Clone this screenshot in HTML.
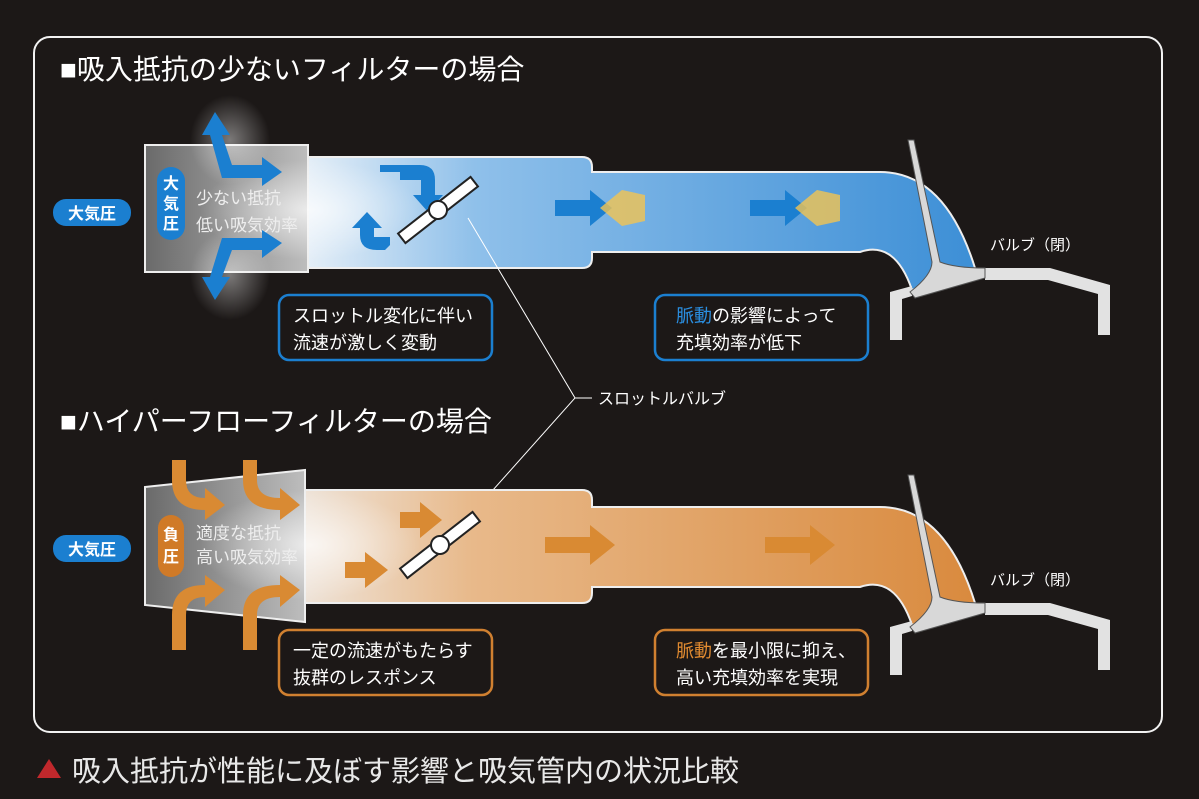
<!DOCTYPE html>
<html><head><meta charset="utf-8"><style>
html,body{margin:0;padding:0;background:#1c1817;}
svg{display:block}
text{font-family:"Liberation Sans","Noto Sans CJK JP",sans-serif;}
</style></head><body>
<svg width="1199" height="799" viewBox="0 0 1199 799" xmlns="http://www.w3.org/2000/svg">
<defs>
<linearGradient id="bl" x1="0" x2="1" y1="0" y2="0">
<stop offset="0" stop-color="#e4eef7"/><stop offset="0.25" stop-color="#8fc0ea"/><stop offset="1" stop-color="#3d8fd6"/></linearGradient>
<linearGradient id="or" x1="0" x2="1" y1="0" y2="0">
<stop offset="0" stop-color="#eee3d8"/><stop offset="0.25" stop-color="#e8b98a"/><stop offset="1" stop-color="#d98a3e"/></linearGradient>
<linearGradient id="gr" x1="0" x2="1"><stop offset="0" stop-color="#6a6a6a"/><stop offset="1" stop-color="#bdbdbd"/></linearGradient>
<radialGradient id="glow"><stop offset="0" stop-color="#fff" stop-opacity="0.7"/><stop offset="1" stop-color="#fff" stop-opacity="0"/></radialGradient>
<g id="valve">
<path d="M0,292 L22,286 L22,296 L12,299 L12,340 L0,340 Z" fill="#e2e2e2"/>
<path d="M95,268 L160,268 L220,285 L220,335 L208,335 L208,294 L158,280 L95,280 Z" fill="#e2e2e2"/>
<path d="M18,140 L24,140 L50,262 Q65,268 95,268 L95,278 L25,298 L20,292 Q42,275 42,262 Z" fill="#d8d8d8" stroke="#555" stroke-width="1"/>
</g>
</defs>
<rect x="34" y="37" width="1128" height="695" rx="16" fill="none" stroke="#f2f2f2" stroke-width="2"/>

<!-- TOP -->
<text x="60" y="79" font-size="28" fill="#fff">■吸入抵抗の少ないフィルターの場合</text>
<rect x="145" y="145" width="163" height="127" fill="url(#gr)" stroke="#eee" stroke-width="2"/>
<path d="M308,157 L582,157 Q592,157 592,167 L592,172 L880,172 Q945,172 975,268 L912,290 Q895,240 860,252 L592,252 L592,258 Q592,268 582,268 L308,268 Z" fill="url(#bl)" stroke="#eee" stroke-width="2"/>
<ellipse cx="310" cy="210" rx="110" ry="50" fill="url(#glow)"/>
<ellipse cx="230" cy="140" rx="40" ry="45" fill="url(#glow)" opacity="0.6"/>
<ellipse cx="230" cy="275" rx="40" ry="45" fill="url(#glow)" opacity="0.6"/>
<use href="#valve" x="890" y="0"/>
<text x="990" y="250" font-size="15" fill="#fff">バルブ（閉）</text>
<rect x="53" y="199" width="78" height="27" rx="13" fill="#1b7fd0"/>
<text x="92" y="219" font-size="16" fill="#fff" text-anchor="middle" font-weight="bold">大気圧</text>
<rect x="157" y="167" width="28" height="73" rx="14" fill="#1b7fd0"/>
<text x="171" y="189" font-size="16" fill="#fff" text-anchor="middle" font-weight="bold">大</text>
<text x="171" y="209" font-size="16" fill="#fff" text-anchor="middle" font-weight="bold">気</text>
<text x="171" y="229" font-size="16" fill="#fff" text-anchor="middle" font-weight="bold">圧</text>
<text x="196" y="204" font-size="17" fill="#eee">少ない抵抗</text>
<text x="196" y="231" font-size="17" fill="#eee">低い吸気効率</text>
<g fill="#1b7fd0">
<path d="M215,112 L230,135 L222,135 L232,165 L262,165 L262,157 L282,172 L262,186 L262,178 L222,178 L210,135 L202,135 Z"/>
<path d="M215,300 L230,277 L222,277 L232,250 L262,250 L262,258 L282,243 L262,230 L262,238 L222,238 L210,277 L202,277 Z"/>
<path d="M380,165 L420,165 Q435,165 435,180 L435,195 L443,195 L428,212 L413,195 L421,195 L421,180 L400,180 L400,172 L380,172Z"/>
<path d="M370,250 L362,250 Q345,250 345,235 L345,228 L337,228 L352,212 L367,228 L359,228 L359,237 L375,237 L375,245Z" transform="translate(15,0)"/>
<path d="M555,200 L590,200 L590,190 L612,208 L590,226 L590,216 L555,216Z"/>
<path d="M750,200 L785,200 L785,190 L807,208 L785,226 L785,216 L750,216Z"/>
</g>
<path d="M600,208 L622,190 L645,195 L645,221 L622,226Z" fill="#f3c451" opacity="0.8"/>
<path d="M795,208 L817,190 L840,195 L840,221 L817,226Z" fill="#f3c451" opacity="0.8"/>
<g transform="rotate(-38 438 210)"><rect x="392" y="204" width="92" height="12" fill="#fff" stroke="#222" stroke-width="2"/><circle cx="438" cy="210" r="9" fill="#fff" stroke="#222" stroke-width="2"/></g>
<rect x="279" y="295" width="213" height="65" rx="10" fill="#1c1817" stroke="#1b7fd0" stroke-width="2.5"/>
<text x="293" y="322" font-size="18" fill="#fff">スロットル変化に伴い</text>
<text x="293" y="349" font-size="18" fill="#fff">流速が激しく変動</text>
<rect x="655" y="295" width="213" height="65" rx="10" fill="#1c1817" stroke="#1b7fd0" stroke-width="2.5"/>
<text x="676" y="322" font-size="18" fill="#fff"><tspan fill="#2a8ee0">脈動</tspan>の影響によって</text>
<text x="676" y="349" font-size="18" fill="#fff">充填効率が低下</text>

<!-- leader -->
<path d="M468,218 L575,398 L468,518 M575,398 L592,398" stroke="#fff" stroke-width="1" fill="none"/>
<text x="598" y="404" font-size="16" fill="#fff">スロットルバルブ</text>

<!-- BOTTOM -->
<text x="60" y="431" font-size="28" fill="#fff">■ハイパーフローフィルターの場合</text>
<polygon points="145,487 305,470 305,622 145,605" fill="url(#gr)" stroke="#eee" stroke-width="2"/>
<path d="M305,490 L582,490 Q592,490 592,500 L592,507 L880,507 Q945,507 975,603 L912,625 Q895,575 860,587 L592,587 L592,593 Q592,603 582,603 L305,603 Z" fill="url(#or)" stroke="#eee" stroke-width="2"/>
<ellipse cx="310" cy="545" rx="110" ry="55" fill="url(#glow)"/>
<use href="#valve" x="890" y="335"/>
<text x="990" y="585" font-size="15" fill="#fff">バルブ（閉）</text>
<rect x="53" y="535" width="78" height="27" rx="13" fill="#1b7fd0"/>
<text x="92" y="555" font-size="16" fill="#fff" text-anchor="middle" font-weight="bold">大気圧</text>
<rect x="158" y="515" width="26" height="62" rx="13" fill="#d07a27"/>
<text x="171" y="540" font-size="16" fill="#fff" text-anchor="middle" font-weight="bold">負</text>
<text x="171" y="562" font-size="16" fill="#fff" text-anchor="middle" font-weight="bold">圧</text>
<text x="196" y="539" font-size="17" fill="#eee">適度な抵抗</text>
<text x="196" y="563" font-size="17" fill="#eee">高い吸気効率</text>
<g fill="#d98a33">
<path d="M172,460 L186,460 L186,480 Q186,498 205,498 L205,488 L225,505 L205,520 L205,510 Q172,510 172,480Z"/>
<path d="M243,460 L257,460 L257,480 Q257,498 280,498 L280,488 L300,505 L280,520 L280,510 Q243,510 243,480Z"/>
<path d="M172,650 L186,650 L186,615 Q186,597 205,597 L205,607 L225,590 L205,575 L205,585 Q172,585 172,615Z"/>
<path d="M243,650 L257,650 L257,615 Q257,597 280,597 L280,607 L300,590 L280,575 L280,585 Q243,585 243,615Z"/>
<path d="M400,512 L420,512 L420,502 L442,520 L420,538 L420,528 L400,528Z"/>
<path d="M345,562 L365,562 L365,552 L388,570 L365,588 L365,578 L345,578Z"/>
<path d="M545,537 L590,537 L590,525 L615,545 L590,565 L590,553 L545,553Z"/>
<path d="M765,537 L810,537 L810,525 L835,545 L810,565 L810,553 L765,553Z"/>
</g>
<g transform="rotate(-38 440 545)"><rect x="394" y="539" width="92" height="12" fill="#fff" stroke="#222" stroke-width="2"/><circle cx="440" cy="545" r="9" fill="#fff" stroke="#222" stroke-width="2"/></g>
<rect x="279" y="630" width="213" height="65" rx="10" fill="#1c1817" stroke="#d08030" stroke-width="2.5"/>
<text x="293" y="657" font-size="18" fill="#fff">一定の流速がもたらす</text>
<text x="293" y="684" font-size="18" fill="#fff">抜群のレスポンス</text>
<rect x="655" y="630" width="213" height="65" rx="10" fill="#1c1817" stroke="#d08030" stroke-width="2.5"/>
<text x="676" y="657" font-size="18" fill="#fff"><tspan fill="#e08a30">脈動</tspan>を最小限に抑え、</text>
<text x="676" y="684" font-size="18" fill="#fff">高い充填効率を実現</text>

<!-- footer -->
<polygon points="37,778 49,759 61,778" fill="#c0282c"/>
<text x="72" y="781" font-size="29" fill="#e8e8e8">吸入抵抗が性能に及ぼす影響と吸気管内の状況比較</text>
</svg>
</body></html>
